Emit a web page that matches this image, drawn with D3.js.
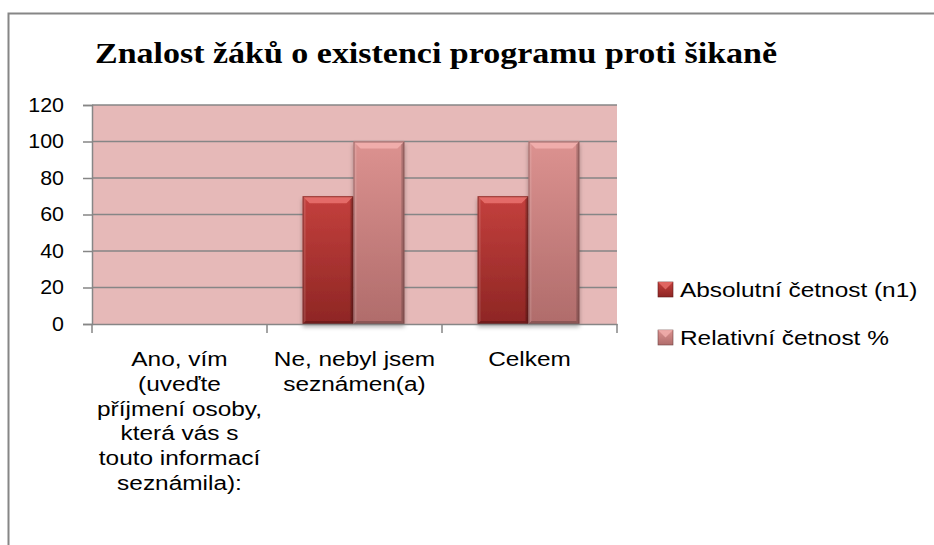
<!DOCTYPE html>
<html>
<head>
<meta charset="utf-8">
<script src="https://cdn.jsdelivr.net/npm/d3@7"></script>
<style>
  body { margin: 0; background: #fff; }
  text { font-family: "Liberation Sans", Arial, sans-serif; }
</style>
</head>
<body>
<div id="chart"></div>
<script>
// data
const chartTitle = "Znalost žáků o existenci programu proti šikaně"
const categories = ["ano", "ne", "celkem"]
const categoryLines = [
  ["Ano, vím", "(uveďte", "příjmení osoby,", "která vás s", "touto informací", "seznámila):"],
  ["Ne, nebyl jsem", "seznámen(a)"],
  ["Celkem"]
]
const seriesNames = ["Absolutní četnost (n1)", "Relativní četnost %"]
const absolutni = [0, 70, 70]
const relativni = [0, 100, 100]
const yTicks = [0, 20, 40, 60, 80, 100, 120]

const width = 934, height = 545
const margin = {left: 92, right: 317, top: 105, bottom: 221}
const fontSize = "20px"

// widen text a bit (original font is wider than Liberation Sans)
function stretch(sel, k) {
  sel.each(function() {
    const len = this.getComputedTextLength()
    d3.select(this).attr("textLength", len * k).attr("lengthAdjust", "spacingAndGlyphs")
  })
}

const svg = d3.select("#chart").append("svg")
  .attr("width", width)
  .attr("height", height)

const defs = svg.append("defs")

// gradients for bevelled bars
const grads = [
  {id: "g0", top: "#c4403d", bot: "#8e2624", edge: "#5e1a19", bevel: "#e8706b"},
  {id: "g1", top: "#dc9290", bot: "#b06c6b", edge: "#6e4544", bevel: "#f2b0ae"}
]
grads.forEach(g => {
  const lg = defs.append("linearGradient").attr("id", g.id)
    .attr("x1", 0).attr("y1", 0).attr("x2", 0).attr("y2", 1)
  lg.append("stop").attr("offset", "0%").attr("stop-color", g.top)
  lg.append("stop").attr("offset", "100%").attr("stop-color", g.bot)
})
const sh = defs.append("filter").attr("id", "shadow")
  .attr("x", "-20%").attr("y", "-10%").attr("width", "140%").attr("height", "130%")
sh.append("feDropShadow").attr("dx", 0).attr("dy", 3).attr("stdDeviation", 2)
  .attr("flood-color", "#000").attr("flood-opacity", 0.3)

// outer frame (left and top only visible)
svg.append("path")
  .attr("d", "M8.5,545 L8.5,13.5 L934,13.5")
  .attr("fill", "none")
  .attr("stroke", "#868686")
  .attr("stroke-width", 2)

// title
svg.append("text")
  .attr("x", 95)
  .attr("y", 63)
  .attr("textLength", 682)
  .attr("lengthAdjust", "spacingAndGlyphs")
  .style("font-family", "'Liberation Serif', 'DejaVu Serif', serif")
  .style("font-weight", "bold")
  .style("font-size", "30px")
  .attr("fill", "#000")
  .text(chartTitle)

const x0 = d3.scaleBand().domain(categories)
  .range([margin.left, width - margin.right]).padding(0)
const x1 = d3.scaleBand().domain([0, 1])
  .range([0, x0.bandwidth()]).paddingInner(0).paddingOuter(0.72)
const y = d3.scaleLinear().domain([0, 120])
  .range([height - margin.bottom, margin.top])

// plot background
svg.append("rect")
  .attr("x", margin.left)
  .attr("y", margin.top)
  .attr("width", width - margin.right - margin.left)
  .attr("height", y(0) - margin.top)
  .attr("fill", "#e6b9b8")

// gridlines
svg.append("g")
  .selectAll("line").data(yTicks.filter(d => d > 0)).join("line")
  .attr("x1", margin.left).attr("x2", width - margin.right)
  .attr("y1", d => y(d)).attr("y2", d => y(d))
  .attr("stroke", "#868686").attr("stroke-width", 1.5)

// bars
const seriesData = [absolutni, relativni]
const barG = svg.append("g")
categories.forEach((c, ci) => {
  seriesData.forEach((s, si) => {
    const v = s[ci]
    if (v <= 0) return
    const g = grads[si]
    const bx = x0(c) + x1(si) - 1, bw = x1.bandwidth()
    const by = y(v), bh = y(0) - y(v)
    const b = 7
    const bg = barG.append("g").attr("filter", "url(#shadow)")
    bg.append("rect")
      .attr("x", bx).attr("y", by).attr("width", bw).attr("height", bh)
      .attr("fill", `url(#${g.id})`)
    // top bevel
    bg.append("path")
      .attr("d", `M${bx},${by} L${bx + bw},${by} L${bx + bw - b},${by + b} L${bx + b},${by + b} Z`)
      .attr("fill", g.bevel).attr("opacity", 0.9)
    // side bevels
    bg.append("path")
      .attr("d", `M${bx},${by} L${bx + 3},${by + 3} L${bx + 3},${by + bh - 3} L${bx},${by + bh} Z`)
      .attr("fill", "#ffffff").attr("opacity", 0.12)
    bg.append("path")
      .attr("d", `M${bx + bw},${by} L${bx + bw - 3},${by + 3} L${bx + bw - 3},${by + bh - 3} L${bx + bw},${by + bh} Z`)
      .attr("fill", "#000").attr("opacity", 0.2)
    bg.append("path")
      .attr("d", `M${bx},${by + bh} L${bx + 3},${by + bh - 3} L${bx + bw - 3},${by + bh - 3} L${bx + bw},${by + bh} Z`)
      .attr("fill", "#000").attr("opacity", 0.2)
    bg.append("rect")
      .attr("x", bx + 0.5).attr("y", by + 0.5).attr("width", bw - 1).attr("height", bh - 1)
      .attr("fill", "none").attr("stroke", g.edge).attr("stroke-width", 1).attr("opacity", 0.6)
  })
})

// y axis
const yAxis = svg.append("g")
  .attr("transform", `translate(${margin.left},0)`)
  .call(d3.axisLeft(y).tickValues(yTicks).tickSize(9).tickPadding(19))
yAxis.select(".domain").attr("stroke", "#868686").attr("stroke-width", 1.5)
yAxis.selectAll(".tick line").attr("stroke", "#868686").attr("stroke-width", 1.5)
yAxis.selectAll(".tick text")
  .style("font-size", fontSize).attr("fill", "#000")
  .style("font-family", "'Liberation Sans', Arial, sans-serif")
  .call(stretch, 1.07)

// x axis
const xAxis = svg.append("g")
  .attr("transform", `translate(0,${y(0)})`)
  .call(d3.axisBottom(x0).tickSize(0).tickFormat(""))
xAxis.select(".domain").attr("stroke", "#868686").attr("stroke-width", 1.5)
const xTicks = categories.map(c => x0(c)).concat([x0(categories[2]) + x0.bandwidth()])
xAxis.selectAll(".bt").data(xTicks).join("line")
  .attr("x1", d => d).attr("x2", d => d)
  .attr("y1", 0).attr("y2", 9)
  .attr("stroke", "#868686").attr("stroke-width", 1.5)

const labels = svg.append("g")
categories.forEach((c, ci) => {
  labels.selectAll(".l" + ci).data(categoryLines[ci]).join("text")
    .attr("class", "l" + ci)
    .attr("x", x0(c) + x0.bandwidth() / 2)
    .attr("y", (d, i) => y(0) + 42 + i * 24.8)
    .attr("text-anchor", "middle")
    .style("font-size", fontSize)
    .attr("fill", "#000")
    .text(d => d)
    .call(stretch, 1.22)
})

// legend
const legend = svg.append("g").attr("transform", "translate(658,282)")
seriesNames.forEach((name, i) => {
  const g = grads[i]
  const lg = legend.append("g").attr("transform", `translate(0,${i * 48})`)
  lg.append("rect").attr("width", 15).attr("height", 15)
    .attr("fill", `url(#${g.id})`).attr("stroke", g.edge).attr("stroke-width", 0.6)
  lg.append("path").attr("d", "M0,0 L15,0 L7.5,7.5 Z").attr("fill", g.bevel).attr("opacity", 0.8)
  lg.append("text").attr("x", 22).attr("y", 15)
    .style("font-size", fontSize).attr("fill", "#000")
    .text(name)
    .call(stretch, 1.22)
})
</script>
</body>
</html>
